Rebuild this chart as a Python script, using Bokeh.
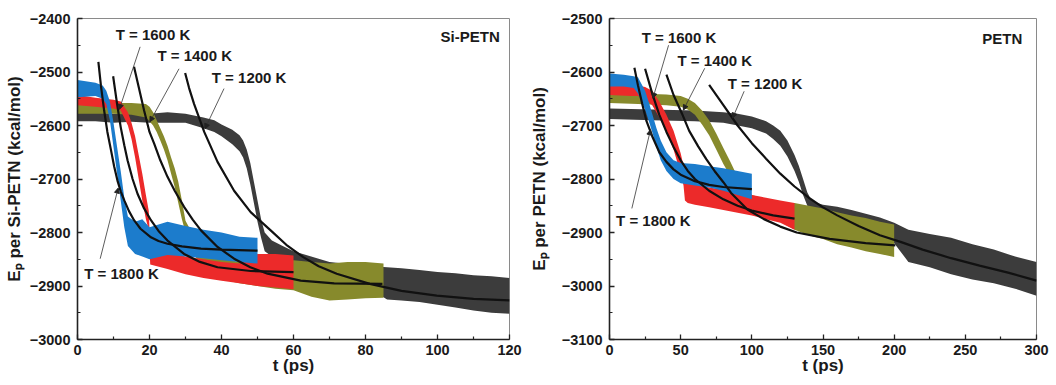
from bokeh.plotting import figure
from bokeh.layouts import row
from bokeh.models import Arrow, NormalHead, ColumnDataSource, FixedTicker
from bokeh.core.properties import value
from bokeh.embed import file_html
from bokeh.resources import INLINE

# ---------------- Si-PETN panel data (t in ps, Ep in kcal/mol) ----------------
SI_1800_T  = [0, 5, 7, 8, 9, 10, 11, 12, 13, 14, 16, 18, 20, 25, 30, 35, 40, 45, 50]
SI_1800_LO = [-2547, -2545, -2550, -2560, -2590, -2640, -2690, -2740, -2790, -2825, -2840, -2845, -2850, -2842, -2845, -2848, -2852, -2855, -2858]
SI_1800_HI = [-2515, -2520, -2525, -2535, -2555, -2595, -2640, -2685, -2735, -2770, -2780, -2775, -2790, -2780, -2788, -2795, -2800, -2808, -2810]

SI_1600_T  = [0, 5, 10, 12, 14, 15, 16, 17, 18, 19, 19.8, 20.2, 25, 30, 35, 40, 45, 50, 55, 60]
SI_1600_LO = [-2562, -2565, -2568, -2572, -2600, -2625, -2660, -2700, -2740, -2775, -2795, -2860, -2868, -2878, -2885, -2890, -2895, -2900, -2903, -2906]
SI_1600_HI = [-2543, -2548, -2552, -2555, -2575, -2595, -2620, -2655, -2690, -2730, -2760, -2828, -2835, -2845, -2850, -2855, -2858, -2840, -2840, -2843]

SI_1400_T  = [0, 5, 10, 15, 19, 20, 21, 22, 23, 24, 25, 26, 27, 28, 29, 30, 35, 45, 55, 60, 65, 70, 75, 80, 85]
SI_1400_LO = [-2578, -2578, -2578, -2580, -2585, -2592, -2600, -2612, -2628, -2645, -2665, -2690, -2715, -2745, -2775, -2800, -2880, -2895, -2905, -2908, -2920, -2927, -2925, -2923, -2922]
SI_1400_HI = [-2555, -2560, -2558, -2558, -2560, -2565, -2575, -2590, -2605, -2620, -2638, -2660, -2680, -2705, -2740, -2778, -2840, -2855, -2860, -2852, -2855, -2858, -2855, -2855, -2858]

SI_1200_T  = [0, 5, 10, 15, 20, 25, 30, 35, 38, 40, 43, 45, 46, 47, 48, 49, 50, 51, 52, 54, 57, 60, 70, 80, 86, 90, 95, 100, 105, 110, 115, 120]
SI_1200_LO = [-2592, -2592, -2595, -2593, -2595, -2595, -2595, -2605, -2612, -2620, -2635, -2648, -2660, -2680, -2710, -2745, -2780, -2810, -2835, -2845, -2855, -2862, -2890, -2900, -2925, -2927, -2930, -2935, -2940, -2946, -2950, -2952]
SI_1200_HI = [-2568, -2575, -2578, -2578, -2578, -2575, -2578, -2585, -2590, -2598, -2608, -2618, -2628, -2645, -2670, -2705, -2740, -2775, -2800, -2815, -2825, -2835, -2855, -2862, -2865, -2867, -2870, -2874, -2876, -2880, -2882, -2885]

SI_FIT_1800_T = [5.8, 6.5, 7.4, 8.3, 9.3, 10.2, 11.1, 12, 13, 14.3, 15.7, 17.5, 20.4, 22.5, 25, 29, 34.3, 40, 50]
SI_FIT_1800_E = [-2481, -2525, -2572, -2612, -2646, -2677, -2703, -2723, -2740, -2760, -2777, -2793, -2809, -2816, -2821, -2826, -2830, -2832, -2834]
SI_FIT_1600_T = [9.9, 11, 12, 13, 13.9, 15.3, 16.7, 18.5, 20.4, 22.5, 25, 29.6, 34, 38.9, 48.1, 60]
SI_FIT_1600_E = [-2508, -2560, -2603, -2637, -2665, -2700, -2728, -2755, -2777, -2797, -2815, -2840, -2855, -2865, -2872, -2874]
SI_FIT_1400_T = [15.7, 17, 18.5, 20, 21.3, 23, 25, 27, 29.6, 32, 34.3, 38.9, 43.5, 48, 52.8, 62, 71.3, 84.7]
SI_FIT_1400_E = [-2490, -2528, -2572, -2612, -2634, -2665, -2696, -2722, -2752, -2776, -2796, -2827, -2849, -2865, -2877, -2890, -2895, -2896]
SI_FIT_1200_T = [29.9, 31, 32.4, 35.2, 38.9, 43.5, 48.1, 53.5, 58, 62.7, 67, 72, 81.2, 90, 99.8, 110, 120]
SI_FIT_1200_E = [-2502, -2530, -2560, -2612, -2668, -2722, -2762, -2795, -2823, -2846, -2863, -2877, -2896, -2909, -2918, -2924, -2927]

# ---------------- PETN panel data ----------------
PE_1800_T  = [0, 10, 17, 20, 25, 28, 30, 33, 36, 40, 45, 50, 60, 70, 80, 90, 100]
PE_1800_LO = [-2627, -2627, -2630, -2640, -2670, -2695, -2712, -2740, -2765, -2785, -2800, -2808, -2812, -2816, -2822, -2830, -2838]
PE_1800_HI = [-2603, -2605, -2608, -2610, -2635, -2660, -2678, -2705, -2728, -2750, -2765, -2770, -2772, -2776, -2780, -2785, -2790]

PE_1600_T  = [0, 15, 20, 25, 30, 35, 40, 45, 48, 50, 52, 53, 55, 60, 70, 80, 90, 100, 110, 120, 130]
PE_1600_LO = [-2643, -2645, -2645, -2650, -2662, -2685, -2712, -2745, -2772, -2790, -2812, -2840, -2845, -2848, -2853, -2858, -2863, -2868, -2875, -2882, -2895]
PE_1600_HI = [-2622, -2625, -2625, -2628, -2635, -2655, -2680, -2710, -2735, -2752, -2775, -2805, -2805, -2810, -2816, -2820, -2825, -2830, -2835, -2840, -2845]

PE_1400_T  = [0, 20, 40, 50, 55, 60, 65, 70, 75, 80, 85, 88, 100, 120, 130, 140, 150, 160, 170, 180, 190, 200]
PE_1400_LO = [-2658, -2660, -2662, -2665, -2670, -2680, -2698, -2718, -2745, -2772, -2795, -2810, -2860, -2880, -2895, -2905, -2912, -2922, -2928, -2935, -2940, -2946]
PE_1400_HI = [-2638, -2640, -2642, -2645, -2650, -2658, -2672, -2690, -2715, -2742, -2768, -2785, -2830, -2845, -2845, -2850, -2855, -2862, -2868, -2873, -2880, -2885]

PE_1200_T  = [0, 30, 60, 80, 90, 100, 110, 115, 120, 125, 130, 133, 136, 139, 142, 146, 150, 160, 170, 180, 190, 200, 210, 225, 240, 255, 270, 285, 300]
PE_1200_LO = [-2688, -2690, -2692, -2695, -2700, -2705, -2715, -2725, -2738, -2758, -2785, -2805, -2830, -2850, -2862, -2868, -2873, -2880, -2888, -2895, -2905, -2920, -2955, -2965, -2978, -2988, -2995, -3005, -3018]
PE_1200_HI = [-2668, -2670, -2672, -2675, -2678, -2683, -2692, -2700, -2710, -2728, -2755, -2775, -2800, -2825, -2840, -2845, -2848, -2852, -2858, -2865, -2872, -2882, -2895, -2903, -2910, -2922, -2932, -2945, -2955]

PE_FIT_1800_T = [17.5, 20, 23, 26, 30, 35, 40, 45, 50, 60, 70, 80, 100]
PE_FIT_1800_E = [-2592, -2625, -2660, -2692, -2720, -2750, -2768, -2782, -2792, -2804, -2811, -2815, -2819]
PE_FIT_1600_T = [25, 30, 35, 40, 45, 50, 55, 60, 70, 80, 90, 100, 115, 130]
PE_FIT_1600_E = [-2594, -2640, -2680, -2712, -2740, -2765, -2785, -2800, -2822, -2838, -2850, -2859, -2868, -2874]
PE_FIT_1400_T = [40, 45, 50.8, 56, 62.3, 68, 73.8, 80, 85.4, 96.9, 108.5, 120, 131.5, 154.6, 180, 200.8]
PE_FIT_1400_E = [-2605, -2643, -2677, -2710, -2739, -2763, -2785, -2806, -2826, -2857, -2875, -2889, -2900, -2912, -2920, -2924]
PE_FIT_1200_T = [70, 80, 90, 100, 110, 120, 130, 140, 150, 160, 175, 190, 205, 220, 240, 260, 280, 300]
PE_FIT_1200_E = [-2624, -2662, -2700, -2733, -2762, -2790, -2814, -2835, -2853, -2868, -2888, -2905, -2918, -2932, -2948, -2962, -2975, -2990]

LABELS = ["T = 1800 K", "T = 1600 K", "T = 1400 K", "T = 1200 K"]

# ---------------- styling ----------------
COLORS = {"1800": "#1c7ccc", "1600": "#ec2a2a", "1400": "#878a2c", "1200": "#3c3c3c"}
FONT = "Liberation Sans"


def style(p, xticks, yticks, ylabel, ystandoff):
    p.xgrid.visible = False
    p.ygrid.visible = False
    p.outline_line_color = "#8a8a8a"
    p.outline_line_width = 1
    p.xaxis.ticker = FixedTicker(ticks=xticks, minor_ticks=[
        (a + b) / 2 for a, b in zip(xticks[:-1], xticks[1:])])
    p.yaxis.ticker = FixedTicker(ticks=yticks, minor_ticks=[
        (a + b) / 2 for a, b in zip(yticks[:-1], yticks[1:])])
    for ax in (p.xaxis, p.yaxis):
        ax.axis_line_color = "#222222"
        ax.axis_line_width = 1.6
        ax.major_tick_in = 5
        ax.major_tick_out = 0
        ax.minor_tick_in = 3
        ax.minor_tick_out = 0
        ax.major_tick_line_color = "#222222"
        ax.minor_tick_line_color = "#222222"
        ax.major_tick_line_width = 1.3
        ax.minor_tick_line_width = 1.2
        ax.major_label_text_font = FONT
        ax.major_label_text_font_style = "bold"
        ax.major_label_text_font_size = "14.5px"
        ax.major_label_text_color = "#1a1a1a"
        ax.axis_label_text_font = FONT
        ax.axis_label_text_font_style = "bold"
        ax.axis_label_text_font_size = "17px"
        ax.axis_label_text_color = "#1a1a1a"
    p.xaxis.major_label_standoff = 5
    p.xaxis.axis_label_standoff = -2
    p.yaxis.major_label_standoff = 7
    p.yaxis.axis_label_standoff = ystandoff
    p.xaxis.axis_label = "t (ps)"
    p.yaxis.axis_label = ylabel


def panel(width, height, xr, yr, bl, br, traces, fits, notes, tag, tagpos):
    p = figure(width=width, height=height, x_range=xr, y_range=yr,
               output_backend="svg", toolbar_location=None,
               min_border_left=bl, min_border_right=br,
               min_border_top=18, min_border_bottom=height - 339,
               background_fill_color="white", border_fill_color="white")
    for key, t, lo, hi in traces:
        p.varea(x=t, y1=lo, y2=hi, fill_color=COLORS[key], fill_alpha=1)
    for t, e in fits:
        p.line(t, e, line_color="#111111", line_width=2.2)
    for (lx, ly, x0, y0, x1, y1), lab in zip(notes, LABELS):
        p.add_layout(Arrow(end=NormalHead(size=5, fill_color="#222222", line_color="#222222"),
                           x_start=x0, y_start=y0, x_end=x1, y_end=y1,
                           line_color="#333333", line_width=0.8))
    src = ColumnDataSource(dict(x=[n[0] for n in notes], y=[n[1] for n in notes], text=LABELS))
    p.text(x="x", y="y", text="text", source=src, text_font=value(FONT),
           text_font_style="bold", text_font_size="15px", text_baseline="middle",
           text_align="left", text_color="#1a1a1a")
    p.text(x=[tagpos[0]], y=[tagpos[1]], text=[tag], text_font=value(FONT),
           text_font_style="bold", text_font_size="15px", text_baseline="middle",
           text_align="right", text_color="#1a1a1a")
    return p


si_traces = [("1200", SI_1200_T, SI_1200_LO, SI_1200_HI),
             ("1400", SI_1400_T, SI_1400_LO, SI_1400_HI),
             ("1600", SI_1600_T, SI_1600_LO, SI_1600_HI),
             ("1800", SI_1800_T, SI_1800_LO, SI_1800_HI)]
si_fits = [(SI_FIT_1800_T, SI_FIT_1800_E), (SI_FIT_1600_T, SI_FIT_1600_E),
           (SI_FIT_1400_T, SI_FIT_1400_E), (SI_FIT_1200_T, SI_FIT_1200_E)]
# label x, label y, pointer start (x, y), pointer end (x, y)
si_notes = [(1.85, -2876, 6.3, -2849, 11.3, -2717),
            (10.6, -2430, 17.4, -2453, 11.6, -2570),
            (22.2, -2470, 28.2, -2494, 20.1, -2593),
            (37.3, -2510, 40.7, -2531, 35.4, -2606)]

pe_traces = [("1200", PE_1200_T, PE_1200_LO, PE_1200_HI),
             ("1400", PE_1400_T, PE_1400_LO, PE_1400_HI),
             ("1600", PE_1600_T, PE_1600_LO, PE_1600_HI),
             ("1800", PE_1800_T, PE_1800_LO, PE_1800_HI)]
pe_fits = [(PE_FIT_1800_T, PE_FIT_1800_E), (PE_FIT_1600_T, PE_FIT_1600_E),
           (PE_FIT_1400_T, PE_FIT_1400_E), (PE_FIT_1200_T, PE_FIT_1200_E)]
pe_notes = [(4.6, -2877, 15.7, -2855, 28.8, -2708),
            (22.6, -2536, 41.5, -2550, 30.5, -2649),
            (47.8, -2579, 66.9, -2593, 51.9, -2671),
            (83.1, -2621, 94.6, -2636, 86.5, -2686)]

H = 384
p1 = panel(526, H, (0, 120), (-3000, -2400), 77, 17, si_traces, si_fits, si_notes,
           "Si-PETN", (117.3, -2433))
style(p1, list(range(0, 121, 20)), list(range(-3000, -2399, 100)),
      "Eₚ per Si-PETN (kcal/mol)", 3)

p2 = panel(528, H, (0, 300), (-3100, -2500), 77, 18, pe_traces, pe_fits, pe_notes,
           "PETN", (290, -2537))
style(p2, list(range(0, 301, 50)), list(range(-3100, -2499, 100)),
      "Eₚ per PETN (kcal/mol)", 10)

layout = row(p1, p2)
open("out.html", "w").write(file_html(layout, INLINE))
